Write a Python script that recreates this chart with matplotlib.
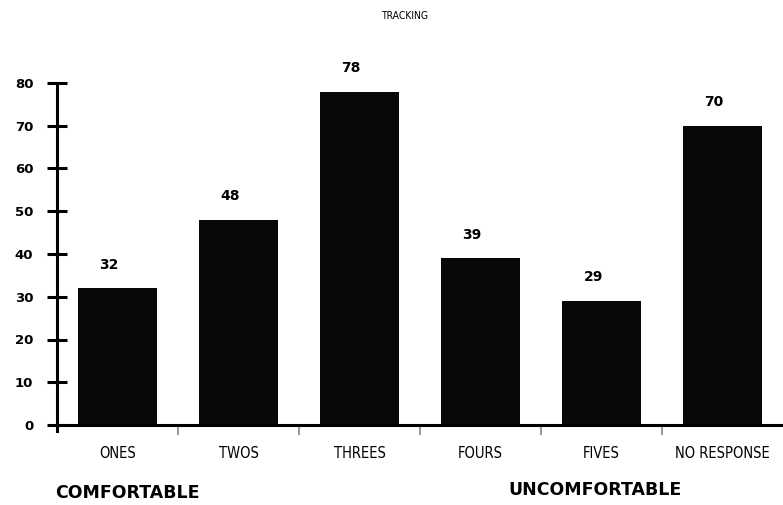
import matplotlib
matplotlib.use("Agg")
import matplotlib.pyplot as plt
from matplotlib import font_manager

categories = ["ONES", "TWOS", "THREES", "FOURS", "FIVES", "NO RESPONSE"]
values = [32, 48, 78, 39, 29, 70]
yticks = [0, 10, 20, 30, 40, 50, 60, 70, 80]
title = "TRACKING"
group_left = "COMFORTABLE"
group_right = "UNCOMFORTABLE"

narrow = font_manager.FontProperties(family="DejaVu Sans", stretch="condensed",
                                     size=10.5)
title_font = font_manager.FontProperties(family="DejaVu Sans", stretch="condensed",
                                         size=7.5)

fig = plt.figure(figsize=(7.83, 5.05), dpi=100)
ax = fig.add_axes([57 / 783, 1 - 425 / 505, 1 - 57 / 783, (425 - 83) / 505])

x = list(range(len(categories)))
ax.bar(x, values, width=0.65, color="#080808", zorder=2)

ax.set_xlim(-0.5, len(categories) - 0.5)
ax.set_ylim(0, 80)

for s in ["top", "right"]:
    ax.spines[s].set_visible(False)
ax.spines["left"].set_linewidth(2.2)
ax.spines["bottom"].set_linewidth(2.2)
ax.spines["left"].set_bounds(-1.5, 80)

ax.set_yticks(yticks)
ax.set_yticklabels([str(v) for v in yticks], fontsize=9.5, fontweight="bold",
                   family="DejaVu Sans")
ax.tick_params(axis="y", direction="inout", length=14, width=2.2, pad=10)

ax.set_xticks(x)
ax.set_xticklabels(categories, fontproperties=narrow)
ax.tick_params(axis="x", length=0, pad=15)
ax.set_xticks([i - 0.5 for i in range(1, len(categories))], minor=True)
ax.tick_params(axis="x", which="minor", direction="out", length=7, width=1.2,
               color="#888888")

for xi, v in zip(x, values):
    ax.annotate(str(v), (xi, v), xytext=(-6, 12), textcoords="offset points",
                ha="center", va="bottom", fontsize=10, fontweight="bold",
                family="DejaVu Sans")

fig.text(405 / 783, 1 - 16 / 505, title, ha="center", va="center",
         fontproperties=title_font)
fig.text(55 / 783, 1 - 493 / 505, group_left, ha="left", va="center",
         fontsize=12.5, fontweight="bold", family="DejaVu Sans")
fig.text(595 / 783, 1 - 490 / 505, group_right, ha="center", va="center",
         fontsize=12.5, fontweight="bold", family="DejaVu Sans")

fig.savefig("out.png", dpi=100)
